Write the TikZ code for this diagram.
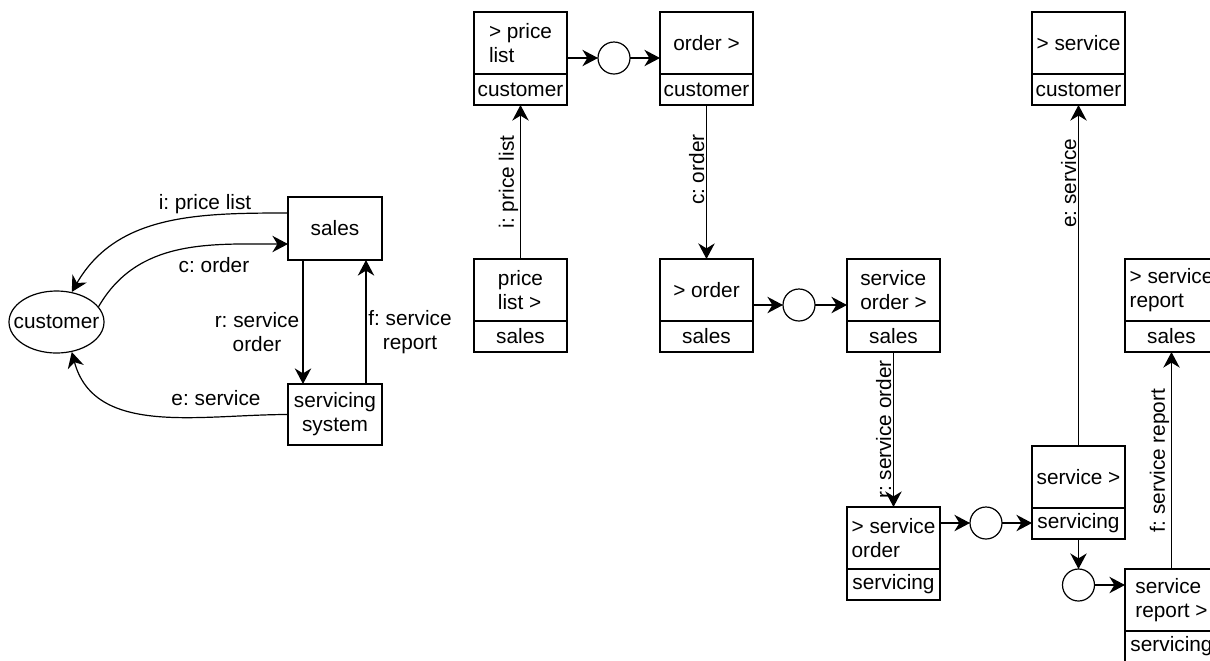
\documentclass[tikz,border=0pt]{standalone}
\usepackage{fontspec}
\setmainfont{Liberation Sans}
\usetikzlibrary{arrows.meta, positioning, shapes.geometric}
\frenchspacing

\tikzset{
  flow/.style={-{Stealth[length=7.8pt, width=8.2pt, inset=2.5pt]}},
  blk/.style={draw, minimum width=47pt, inner sep=1pt, outer sep=0pt, align=center},
  head/.style={draw, minimum width=46.5pt, minimum height=31pt, inner sep=1pt, outer sep=0pt, align=left, anchor=north west},
  tail/.style={draw, minimum width=46.5pt, minimum height=15.5pt, inner sep=1pt, outer sep=0pt},
  junc/.style={draw, circle, minimum size=16pt, inner sep=0pt, outer sep=0pt},
  vlab/.style={rotate=90, anchor=south, inner sep=0.8pt}
}

\begin{document}
\begin{tikzpicture}[x=0.5pt, y=-0.5pt, line width=0.6pt, font=\fontsize{10.4}{12}\selectfont]
    \useasboundingbox (0,0) rectangle (1210,660);

    % context diagram
    \node[blk, minimum height=31.5pt] (sales) at (335,228.5) {sales};
    \node[blk, minimum height=30.5pt] (sys) at (335,414.5) {servicing\\system};
    \node[draw, ellipse, minimum width=47.5pt, minimum height=31pt, inner sep=0pt] (cust) at (56.5,322) {\makebox[0pt]{customer}};

    \draw[flow] ([yshift=7.75pt]sales.west) to[out=180, in=60] (cust.63);
    \node (ilab) at (205,204) {i: price list};
    \draw[flow] (cust.20) to[out=60, in=180] ([yshift=-7.75pt]sales.west);
    \node (clab) at (214,265) {c: order};
    \draw[flow] ([xshift=-16pt]sales.south) -- ([xshift=-16pt]sys.north);
    \node[align=center] (rlab) at (257,332) {r: service\\order};
    \draw[flow] ([xshift=15.5pt]sys.north) -- ([xshift=15.5pt]sales.south);
    \node[align=center] (flab) at (410,332) {f: service\\report};
    \draw[flow] (sys.west) to[out=180, in=-75] (cust.-63);
    \node (elab) at (216,398) {e: service};

    % price list and order
    \node[head] (plc) at (474,12) {> price\\list};
    \node[tail, below=0pt of plc] (plcb) {customer};
    \node[head] (pls) at (474,259) {price\\list >};
    \node[tail, below=0pt of pls] (plsb) {sales};
    \node[head] (oc) at (660,12) {order >};
    \node[tail, below=0pt of oc] (ocb) {customer};
    \node[head] (mo) at (660,259) {> order};
    \node[tail, below=0pt of mo] (mob) {sales};
    \node[junc] (j1) at (614,58) {};
    \node[junc] (j2) at (799,305) {};

    \draw[flow] (pls.north) -- (plcb.south) node[vlab, midway] {i: price list};
    \draw[flow] (plc.east |- j1) -- (j1);
    \draw[flow] (j1) -- (j1 -| oc.west);
    \draw[flow] (ocb.south) -- (mo.north) node[vlab, pos=0.42] {c: order};
    \draw[flow] (mo.east |- j2) -- (j2);

    % service order, service and report
    \node[head] (so) at (847,259) {service\\order >};
    \node[tail, below=0pt of so] (sob) {sales};
    \node[head] (rso) at (847,507) {> service\\order};
    \node[tail, below=0pt of rso] (rsob) {servicing};
    \node[head] (sv) at (1032,446) {service >};
    \node[tail, below=0pt of sv] (svb) {servicing};
    \node[head] (rsv) at (1032,12) {> service};
    \node[tail, below=0pt of rsv] (rsvb) {customer};
    \node[head] (rsr) at (1125,259) {> service\\report};
    \node[tail, below=0pt of rsr] (rsrb) {sales};
    \node[head] (sr) at (1125,569) {service\\report >};
    \node[tail, below=0pt of sr] (srb) {servicing};
    \node[junc] (j3) at (986,523) {};
    \node[junc] (j4) at (1078.5,585) {};

    \draw[flow] (j2) -- (j2 -| so.west);
    \draw[flow] (sob.south) -- (rso.north) node[vlab, midway] {r: service order};
    \draw[flow] (rso.east |- j3) -- (j3);
    \draw[flow] (j3) -- (j3 -| sv.west);
    \draw[flow] (sv.north) -- (rsvb.south) node[vlab, pos=0.77] {e: service};
    \draw[flow] (svb.south) -- (j4);
    \draw[flow] (j4) -- (j4 -| sr.west);
    \draw[flow] (sr.north) -- (rsrb.south) node[vlab, midway] {f: service report};
\end{tikzpicture}
\end{document}
